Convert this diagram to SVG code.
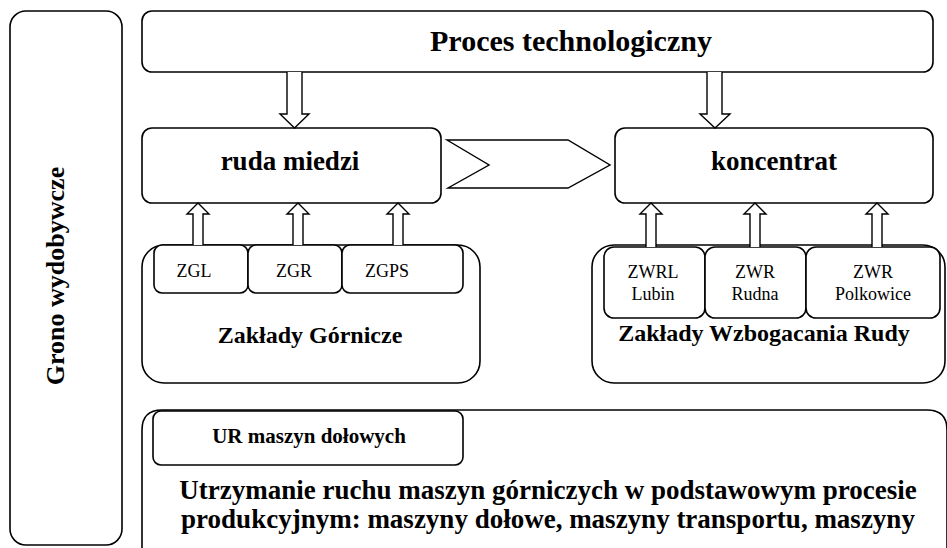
<svg xmlns="http://www.w3.org/2000/svg" width="947" height="548" viewBox="0 0 947 548">
<style>
.box{fill:#fff;stroke:#000;stroke-width:1.6}
.arr{fill:#fff;stroke:#000;stroke-width:1.4;stroke-linejoin:miter}
text{font-family:'Liberation Serif','Times New Roman',serif;fill:#000;text-anchor:middle}
.b{font-weight:bold}
</style>
<rect width="947" height="548" fill="#fff"/>
<g id="grono">
<rect class="box" x="10" y="11" width="112" height="534" rx="16"/>
<text class="b" font-size="26" transform="translate(64,276) rotate(-90)">Grono wydobywcze</text>
</g>
<g id="proces">
<rect class="box" x="142" y="11" width="791" height="61" rx="10"/>
<text class="b" font-size="30" x="571" y="51">Proces technologiczny</text>
</g>
<g id="ruda">
<rect class="box" x="142" y="128" width="299" height="75" rx="10"/>
<text class="b" font-size="27" x="290" y="170">ruda miedzi</text>
</g>
<g id="koncentrat">
<rect class="box" x="615" y="128" width="318" height="75" rx="10"/>
<text class="b" font-size="27" x="774" y="170">koncentrat</text>
</g>
<g id="zg">
<rect class="box" x="142" y="245" width="338" height="138" rx="22"/>
<rect class="box" x="154" y="245" width="94" height="48" rx="8"/>
<rect class="box" x="248" y="245" width="94" height="48" rx="8"/>
<rect class="box" x="342" y="245" width="121" height="48" rx="8"/>
<text font-size="18" x="194" y="277">ZGL</text>
<text font-size="18" x="294" y="277">ZGR</text>
<text font-size="18" x="387" y="277">ZGPS</text>
<text class="b" font-size="24" x="310" y="343">Zakłady Górnicze</text>
</g>
<g id="zwr">
<rect class="box" x="592" y="245" width="353" height="138" rx="22"/>
<rect class="box" x="604" y="247" width="101" height="71" rx="10"/>
<rect class="box" x="705" y="247" width="101" height="71" rx="10"/>
<rect class="box" x="806" y="247" width="134" height="71" rx="10"/>
<text font-size="18" x="653" y="278">ZWRL</text>
<text font-size="18" x="653" y="300">Lubin</text>
<text font-size="18" x="755" y="278">ZWR</text>
<text font-size="18" x="755" y="300">Rudna</text>
<text font-size="18" x="873" y="278">ZWR</text>
<text font-size="18" x="873" y="300">Polkowice</text>
<text class="b" font-size="24" x="764" y="341">Zakłady Wzbogacania Rudy</text>
</g>
<g id="ur">
<path class="box" d="M142,560 V430 Q142,410 162,410 H927 Q947,410 947,430 V560"/>
<rect class="box" x="153" y="411" width="310" height="54" rx="8"/>
<text class="b" font-size="21" x="309" y="443">UR maszyn dołowych</text>
<text class="b" font-size="27" x="548" y="499">Utrzymanie ruchu maszyn górniczych w podstawowym procesie</text>
<text class="b" font-size="27" x="548" y="528">produkcyjnym: maszyny dołowe, maszyny transportu, maszyny</text>
</g>
<g id="connectors">
<path class="arr" d="M287,72 V114 H280 L294.5,128 L309,114 H302 V72"/>
<path class="arr" d="M707,72 V114 H700 L715,128 L730,114 H722 V72"/>
<path class="arr" d="M447,140 H568 L610,165 L568,188 H448 L489,165 Z"/>
<path class="arr" d="M193,245 V214 H187 L198,203 L209,214 H203 V245"/>
<path class="arr" d="M293,245 V214 H287 L298,203 L309,214 H303 V245"/>
<path class="arr" d="M393,245 V214 H387 L398,203 L409,214 H403 V245"/>
<path class="arr" d="M646,247 V214 H640 L651,203 L662,214 H656 V247"/>
<path class="arr" d="M750,247 V214 H744 L755,203 L766,214 H760 V247"/>
<path class="arr" d="M872,247 V214 H866 L877,203 L888,214 H882 V247"/>
</g>
</svg>
